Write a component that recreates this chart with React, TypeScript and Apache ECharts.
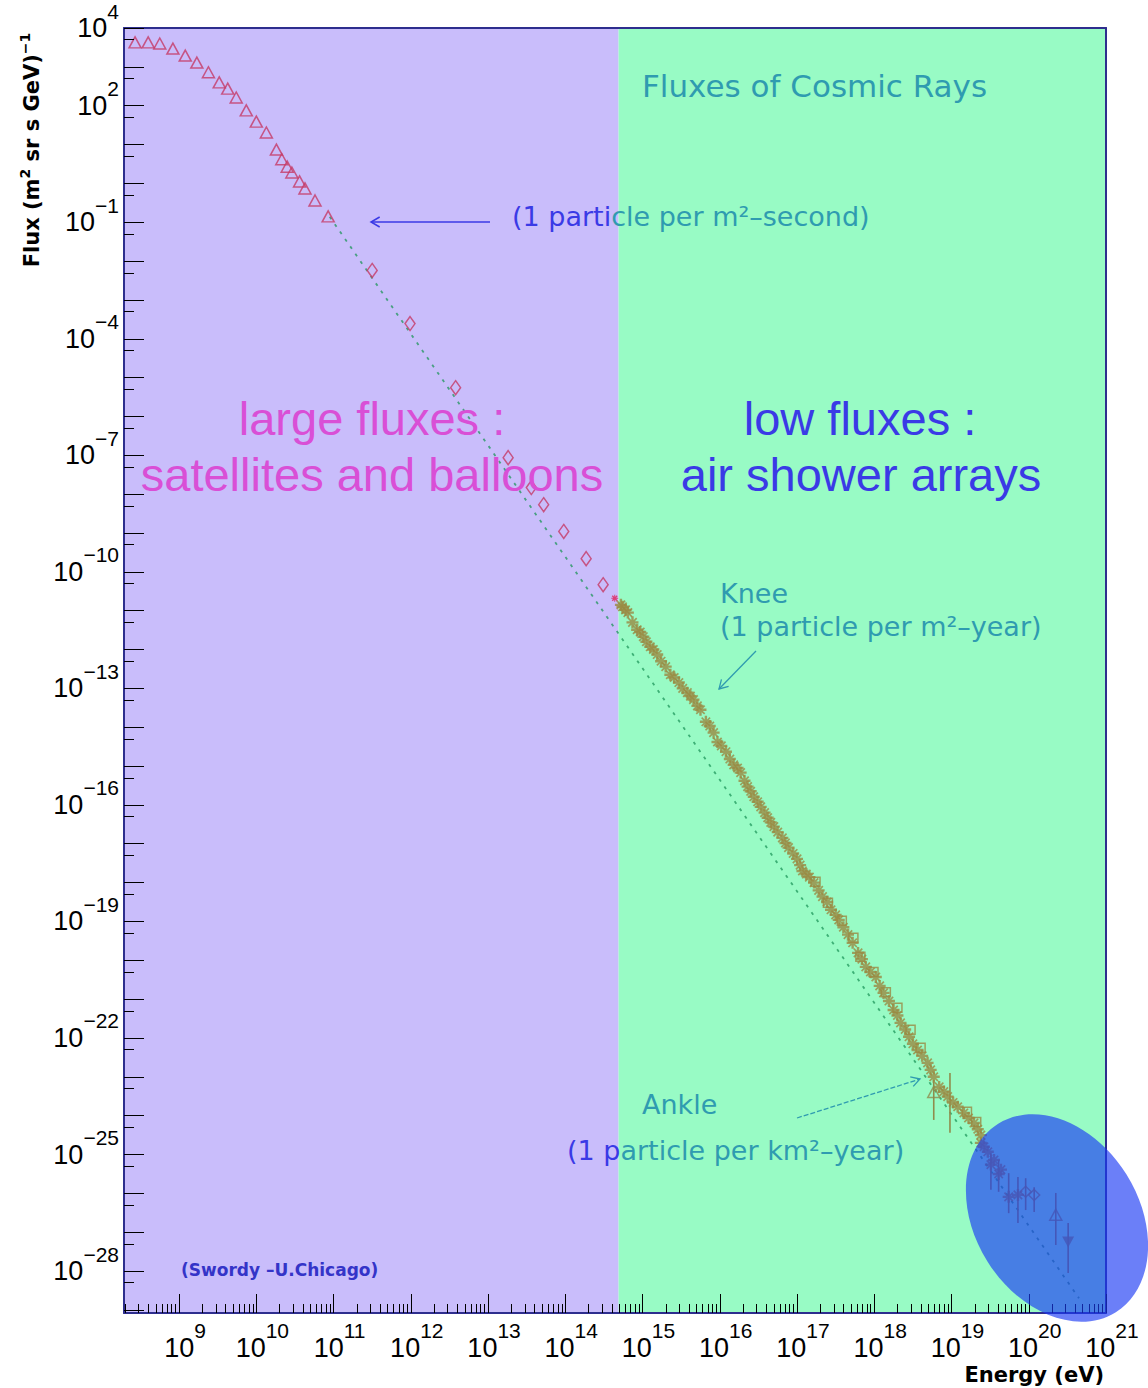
import { useEffect, useRef } from "react";
import * as echarts from "echarts";

// Coordinates are decades: x = log10(E / eV), y = log10(flux / (m² sr s GeV)⁻¹)

const X_MIN = 8.287;
const X_MAX = 21;
const Y_MIN = -29.08;
const Y_MAX = 4;
const REGION_SPLIT = 14.69; // direct measurements | air shower arrays

const xMajorTicks = [9, 10, 11, 12, 13, 14, 15, 16, 17, 18, 19, 20, 21];
const yMajorTicks = [
  -29, -28, -27, -26, -25, -24, -23, -22, -21, -20, -19, -18, -17, -16, -15, -14, -13,
  -12, -11, -10, -9, -8, -7, -6, -5, -4, -3, -2, -1, 0, 1, 2, 3, 4,
];
const yLabelledTicks = [4, 2, -1, -4, -7, -10, -13, -16, -19, -22, -25, -28];

// satellite / balloon spectrum (triangles)
const directTriangles: [number, number][] = [
  [8.43, 3.63], [8.6, 3.63], [8.75, 3.6], [8.92, 3.47], [9.08, 3.29], [9.23, 3.11],
  [9.38, 2.86], [9.52, 2.6], [9.63, 2.44], [9.74, 2.21], [9.87, 1.88], [10.0, 1.59],
  [10.13, 1.31], [10.26, 0.87], [10.33, 0.62], [10.4, 0.43], [10.46, 0.28], [10.56, 0.05],
  [10.63, -0.13], [10.76, -0.44], [10.93, -0.85],
];

// satellite / balloon spectrum (diamonds)
const directDiamonds: [number, number][] = [
  [11.5, -2.24], [11.99, -3.61], [12.58, -5.26], [13.26, -7.06], [13.56, -7.83],
  [13.72, -8.27], [13.98, -8.96], [14.27, -9.66], [14.49, -10.33],
];

const kneeCross: [number, number][] = [[14.64, -10.68]];

// air shower array measurements
const showerFilled: [number, number][] = [
  [14.72, -10.85], [14.74, -10.9], [14.78, -10.98], [14.81, -11.05], [14.87, -11.3],
  [14.93, -11.49], [14.97, -11.55], [15.01, -11.67], [15.05, -11.8], [15.1, -11.93],
  [15.14, -12.0], [15.19, -12.13], [15.24, -12.3], [15.3, -12.44], [15.36, -12.65],
  [15.41, -12.72], [15.47, -12.85], [15.52, -13.0], [15.58, -13.11], [15.62, -13.2],
  [15.66, -13.29], [15.71, -13.45], [15.75, -13.55], [15.82, -13.86], [15.87, -13.97],
  [15.92, -14.14], [15.97, -14.38], [16.02, -14.48], [16.08, -14.63], [16.13, -14.82],
  [16.18, -14.97], [16.23, -15.05], [16.27, -15.17], [16.32, -15.38], [16.36, -15.53],
  [16.4, -15.65], [16.44, -15.79], [16.49, -15.92], [16.53, -16.05], [16.58, -16.2],
  [16.62, -16.33], [16.66, -16.45], [16.7, -16.56], [16.75, -16.7], [16.81, -16.85],
  [16.85, -16.98], [16.89, -17.1], [16.95, -17.25], [17.0, -17.39], [17.04, -17.55],
  [17.07, -17.7], [17.12, -17.78], [17.16, -17.86], [17.22, -18.0], [17.28, -18.2],
  [17.33, -18.36], [17.39, -18.5], [17.44, -18.7], [17.5, -18.83], [17.54, -18.96],
  [17.6, -19.15], [17.66, -19.34], [17.72, -19.55], [17.79, -19.81], [17.84, -19.97],
  [17.89, -20.17], [17.95, -20.3], [18.02, -20.43], [18.07, -20.66], [18.12, -20.84],
  [18.19, -21.05], [18.25, -21.28], [18.3, -21.42], [18.34, -21.61], [18.4, -21.78],
  [18.45, -21.97], [18.5, -22.15], [18.56, -22.31], [18.62, -22.46], [18.69, -22.64],
  [18.73, -22.82], [18.77, -23.0], [18.84, -23.26], [18.9, -23.38], [18.95, -23.51],
  [19.02, -23.66], [19.08, -23.77], [19.16, -23.93], [19.22, -24.06], [19.29, -24.19],
  [19.34, -24.35], [19.38, -24.5],
];

const showerOpen: [number, number][] = [
  [17.24, -17.98], [17.4, -18.52], [17.58, -18.98], [17.73, -19.42], [17.82, -19.91],
  [17.99, -20.3], [18.15, -20.82], [18.3, -21.22], [18.47, -21.79], [18.6, -22.25],
  [19.2, -23.9], [19.32, -24.16],
];

// highest energy events: [logE, logF, lower, upper]
const errorBars: [number, number, number, number][] = [
  [18.77, -23.39, -24.11, -23.08], [18.98, -23.59, -24.44, -22.9],
  [19.51, -25.26, -25.91, -24.96], [19.61, -25.5, -25.96, -25.14],
  [19.74, -26.09, -26.51, -25.48], [19.86, -26.04, -26.76, -25.58],
  [19.96, -25.96, -26.43, -25.61], [20.07, -26.04, -26.48, -25.84],
  [20.35, -26.55, -27.33, -25.99], [20.51, -27.25, -28.05, -26.76],
];

const highFilled: [number, number][] = [
  [19.38, -24.7], [19.42, -24.8], [19.47, -24.93], [19.51, -25.26], [19.55, -25.14],
  [19.61, -25.5], [19.64, -25.39], [19.74, -26.09], [19.86, -26.04],
];
const highOpen: [number, number][] = [[19.96, -25.96], [20.07, -26.04]];
const openTriangles: [number, number][] = [[18.77, -23.39], [20.35, -26.55]];
const downTriangles: [number, number][] = [[20.51, -27.25]];

// E^-2.87 power law
const powerLaw: [number, number][] = [[10.95, -0.86], [20.65, -28.7]];

const regionBands: [number, number, number][] = [
  [X_MIN, REGION_SPLIT, 0],
  [REGION_SPLIT, X_MAX, 1],
];
const bandColors = ["#c9bdfb", "#98fbc5"];

const FONT = "'Liberation Sans', Arial, sans-serif";
const ROOT_FONT = "'DejaVu Sans', Verdana, sans-serif";
const AXIS_BLUE = "#2e2e8e";
const OLIVE = "#9a8a42";
const CRIMSON = "#c63a66";
const TEAL = "#2f9bb0";
const NOTE_BLUE = "#3a3ae6";

const ASTERISK =
  "path://M4,0H6V3L8,1L9,2L7,4H10V6H7L9,8L8,9L6,7V10H4V7L2,9L1,8L3,6H0V4H3L1,2L2,1L4,3Z";

const xMinorTicks: number[] = [];
for (let d = 8; d <= 20; d++) {
  for (let k = 2; k <= 9; k++) {
    const v = d + Math.log10(k);
    if (v > X_MIN && v < X_MAX) xMinorTicks.push(v);
  }
}
const yMinorTicks = yMajorTicks.map((n) => n + Math.log10(0.5)).filter((v) => v > Y_MIN);

// "10" centred in the label block, exponent lifted above it
const tickRich = {
  b: { fontSize: 27, fontFamily: FONT, color: "#000" },
  s: { fontSize: 21, fontFamily: FONT, color: "#000", padding: [0, 0, 34, 0] },
};
const powerLabel = (v: number) => {
  const n = Math.round(v);
  return `{b|10}{s|${n < 0 ? "\u2212" + -n : n}}`;
};

function arrowHead(tip: [number, number], from: [number, number], len = 10) {
  const dx = from[0] - tip[0];
  const dy = from[1] - tip[1];
  const l = Math.hypot(dx, dy);
  const ux = dx / l;
  const uy = dy / l;
  const c = Math.cos(Math.PI / 6);
  const s = Math.sin(Math.PI / 6);
  return [
    [tip[0] + len * (ux * c - uy * s), tip[1] + len * (ux * s + uy * c)],
    tip,
    [tip[0] + len * (ux * c + uy * s), tip[1] + len * (-ux * s + uy * c)],
  ];
}

function note(text: string, x: number, y: number, fill: string, size: number, extra: any = {}) {
  return {
    type: "text",
    x,
    y,
    z: 50,
    silent: true,
    style: {
      text,
      fill,
      fontSize: size,
      fontFamily: extra.fontFamily || ROOT_FONT,
      fontWeight: extra.fontWeight || "normal",
      textAlign: extra.align || "left",
      textVerticalAlign: "middle",
      rich: extra.rich,
    },
  };
}

export default function App() {
  const ref = useRef<HTMLDivElement>(null);

  useEffect(() => {
    if (!ref.current) return;
    const chart = echarts.init(ref.current, undefined, { renderer: "svg" });

    const baseX = {
      type: "value",
      min: X_MIN,
      max: X_MAX,
      position: "bottom",
      z: 5,
      splitLine: { show: false },
    };
    const baseY = {
      type: "value",
      min: Y_MIN,
      max: Y_MAX,
      position: "left",
      z: 5,
      splitLine: { show: false },
    };
    const frame = { show: true, onZero: false, lineStyle: { color: AXIS_BLUE, width: 2 } };
    const noLine = { show: false, onZero: false };

    const arrow1From: [number, number] = [490, 222];
    const arrow1Tip: [number, number] = [371, 222];
    const arrow2From: [number, number] = [756, 651];
    const arrow2Tip: [number, number] = [719, 689];
    const arrow3From: [number, number] = [797, 1118];
    const arrow3Tip: [number, number] = [920, 1079];

    chart.setOption({
      animation: false,
      grid: { left: 124, right: 42, top: 28, bottom: 75, containLabel: false, outerBoundsMode: "none" },
      xAxis: [
        {
          ...baseX,
          axisLine: frame,
          axisTick: { show: true, inside: true, length: 9, customValues: xMinorTicks, lineStyle: { color: "#000", width: 1 } },
          axisLabel: { show: false },
        },
        {
          ...baseX,
          axisLine: noLine,
          axisTick: { show: true, inside: true, length: 19, customValues: xMajorTicks, lineStyle: { color: "#000", width: 1 } },
          axisLabel: {
            show: true,
            customValues: xMajorTicks,
            margin: 7,
            padding: [0, 0, 0, 12],
            formatter: powerLabel,
            rich: tickRich,
          },
        },
        {
          ...baseX,
          position: "top",
          axisLine: frame,
          axisTick: { show: false },
          axisLabel: { show: false },
        },
      ],
      yAxis: [
        {
          ...baseY,
          axisLine: frame,
          axisTick: { show: true, inside: true, length: 10, customValues: yMinorTicks, lineStyle: { color: "#000", width: 1 } },
          axisLabel: { show: false },
        },
        {
          ...baseY,
          axisLine: noLine,
          axisTick: { show: true, inside: true, length: 20, customValues: yMajorTicks, lineStyle: { color: "#000", width: 1 } },
          axisLabel: {
            show: true,
            customValues: yLabelledTicks,
            margin: 5,
            formatter: powerLabel,
            rich: tickRich,
          },
        },
        {
          ...baseY,
          position: "right",
          axisLine: frame,
          axisTick: { show: false },
          axisLabel: { show: false },
        },
      ],
      series: [
        {
          type: "custom",
          name: "regions",
          z: 1,
          silent: true,
          encode: { x: [0, 1] },
          data: regionBands,
          renderItem: (_p: any, api: any) => {
            const a = api.coord([api.value(0), Y_MAX]);
            const b = api.coord([api.value(1), Y_MIN]);
            return {
              type: "rect",
              shape: { x: a[0], y: a[1], width: b[0] - a[0], height: b[1] - a[1] },
              style: { fill: bandColors[api.value(2)] },
            };
          },
        },
        {
          type: "line",
          name: "power law",
          z: 2,
          data: powerLaw,
          showSymbol: false,
          silent: true,
          lineStyle: { color: "rgba(30,150,90,0.75)", width: 1.8, type: [3, 6] },
        },
        {
          type: "custom",
          name: "errors",
          z: 3,
          silent: true,
          encode: { x: 0, y: [1, 2, 3] },
          data: errorBars,
          renderItem: (_p: any, api: any) => {
            const lo = api.coord([api.value(0), api.value(2)]);
            const hi = api.coord([api.value(0), api.value(3)]);
            return {
              type: "line",
              shape: { x1: lo[0], y1: lo[1], x2: hi[0], y2: hi[1] },
              style: { stroke: "#8f8c4c", lineWidth: 1.6 },
            };
          },
        },
        {
          type: "scatter",
          name: "triangles",
          z: 4,
          data: directTriangles,
          symbol: "triangle",
          symbolSize: [12, 11],
          itemStyle: { color: "rgba(0,0,0,0)", borderColor: CRIMSON, borderWidth: 1.5 },
        },
        {
          type: "scatter",
          name: "diamonds",
          z: 4,
          data: directDiamonds,
          symbol: "diamond",
          symbolSize: [10, 14],
          itemStyle: { color: "rgba(0,0,0,0)", borderColor: CRIMSON, borderWidth: 1.5 },
        },
        {
          type: "scatter",
          name: "knee cross",
          z: 4,
          data: kneeCross,
          symbol: ASTERISK,
          symbolSize: 7,
          symbolRotate: 45,
          itemStyle: { color: "#e0205a" },
        },
        {
          type: "scatter",
          name: "shower open",
          z: 4,
          data: showerOpen,
          symbol: "rect",
          symbolSize: 9,
          itemStyle: { color: "rgba(0,0,0,0)", borderColor: OLIVE, borderWidth: 1.5 },
        },
        {
          type: "scatter",
          name: "shower",
          z: 5,
          data: showerFilled,
          symbol: ASTERISK,
          symbolSize: 12,
          itemStyle: { color: OLIVE },
        },
        {
          type: "scatter",
          name: "highest filled",
          z: 5,
          data: highFilled,
          symbol: ASTERISK,
          symbolSize: 12,
          itemStyle: { color: OLIVE },
        },
        {
          type: "scatter",
          name: "highest open",
          z: 5,
          data: highOpen,
          symbol: "diamond",
          symbolSize: 11,
          itemStyle: { color: "rgba(0,0,0,0)", borderColor: OLIVE, borderWidth: 1.5 },
        },
        {
          type: "scatter",
          name: "open triangles",
          z: 5,
          data: openTriangles,
          symbol: "triangle",
          symbolSize: [12, 11],
          itemStyle: { color: "rgba(0,0,0,0)", borderColor: "#8f8c4c", borderWidth: 1.5 },
        },
        {
          type: "scatter",
          name: "down triangles",
          z: 5,
          data: downTriangles,
          symbol: "triangle",
          symbolRotate: 180,
          symbolSize: [12, 11],
          itemStyle: { color: "#8f8c4c" },
        },
      ],
      graphic: [
        note("Fluxes of Cosmic Rays", 642, 86, TEAL, 31),
        note("{b|(1 parti}{t|cle per m\u00b2\u2013second)}", 512, 216, TEAL, 27, {
          rich: {
            b: { fill: NOTE_BLUE, fontSize: 27, fontFamily: ROOT_FONT },
            t: { fill: TEAL, fontSize: 27, fontFamily: ROOT_FONT },
          },
        }),
        note("large fluxes :", 372, 418, "#d94fd6", 47, { fontFamily: FONT, align: "center" }),
        note("satellites and balloons", 372, 474, "#d94fd6", 47, { fontFamily: FONT, align: "center" }),
        note("low fluxes :", 860, 418, NOTE_BLUE, 47, { fontFamily: FONT, align: "center" }),
        note("air shower arrays", 861, 474, NOTE_BLUE, 47, { fontFamily: FONT, align: "center" }),
        note("Knee", 720, 593, TEAL, 27),
        note("(1 particle per m\u00b2\u2013year)", 720, 626, TEAL, 27),
        note("Ankle", 642, 1104, TEAL, 27),
        note("{b|(1 p}{t|article per km\u00b2\u2013year)}", 567, 1150, TEAL, 27, {
          rich: {
            b: { fill: NOTE_BLUE, fontSize: 27, fontFamily: ROOT_FONT },
            t: { fill: TEAL, fontSize: 27, fontFamily: ROOT_FONT },
          },
        }),
        note("(Swordy \u2013U.Chicago)", 181, 1270, "#3434c8", 17, { fontWeight: "bold" }),
        note("Energy (eV)", 1104, 1375, "#000", 21, { fontWeight: "bold", align: "right" }),
        {
          type: "text",
          x: 32,
          y: 150,
          rotation: Math.PI / 2,
          z: 50,
          silent: true,
          style: {
            text: "{t|Flux (m}{s|2}{t| sr s GeV)}{s|\u22121}",
            textAlign: "center",
            textVerticalAlign: "middle",
            rich: {
              t: { fill: "#000", fontSize: 21, fontWeight: "bold", fontFamily: ROOT_FONT },
              s: { fill: "#000", fontSize: 14, fontWeight: "bold", fontFamily: ROOT_FONT, padding: [0, 0, 14, 0] },
            },
          },
        },
        {
          type: "line",
          z: 50,
          silent: true,
          shape: { x1: arrow1From[0], y1: arrow1From[1], x2: arrow1Tip[0], y2: arrow1Tip[1] },
          style: { stroke: NOTE_BLUE, lineWidth: 1.5 },
        },
        {
          type: "polyline",
          z: 50,
          silent: true,
          shape: { points: arrowHead(arrow1Tip, arrow1From) },
          style: { stroke: NOTE_BLUE, lineWidth: 1.5, fill: null },
        },
        {
          type: "line",
          z: 50,
          silent: true,
          shape: { x1: arrow2From[0], y1: arrow2From[1], x2: arrow2Tip[0], y2: arrow2Tip[1] },
          style: { stroke: TEAL, lineWidth: 1.3 },
        },
        {
          type: "polyline",
          z: 50,
          silent: true,
          shape: { points: arrowHead(arrow2Tip, arrow2From) },
          style: { stroke: TEAL, lineWidth: 1.3, fill: null },
        },
        {
          type: "line",
          z: 50,
          silent: true,
          shape: { x1: arrow3From[0], y1: arrow3From[1], x2: arrow3Tip[0], y2: arrow3Tip[1] },
          style: { stroke: TEAL, lineWidth: 1.3, lineDash: [5, 2] },
        },
        {
          type: "polyline",
          z: 50,
          silent: true,
          shape: { points: arrowHead(arrow3Tip, arrow3From) },
          style: { stroke: TEAL, lineWidth: 1.3, fill: null },
        },
        {
          type: "ellipse",
          x: 1057,
          y: 1218,
          rotation: -58 * (Math.PI / 180),
          z: 100,
          silent: true,
          shape: { cx: 0, cy: 0, rx: 111, ry: 82 },
          style: { fill: "rgba(28,58,245,0.65)" },
        },
      ],
    });

    return () => chart.dispose();
  }, []);

  return (
    <div
      ref={ref}
      style={{ position: "fixed", left: 0, top: 0, width: 1148, height: 1388, background: "#fff" }}
    />
  );
}
